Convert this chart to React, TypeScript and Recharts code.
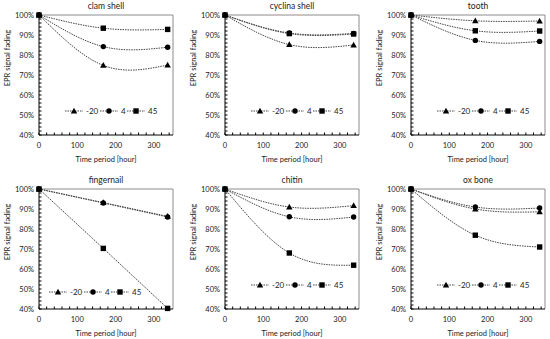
import React from "react";
import { LineChart, Line, XAxis, YAxis, Legend, ReferenceLine } from "recharts";

// storage time in hours
const hours = [0, 168, 336];
const seriesNames = ["-20", "4", "45"];

// EPR signal fading (%), one array per temperature
const clamShellM20 = [100, 74.8, 75.0];
const clamShell4 = [100, 84.2, 83.9];
const clamShell45 = [100, 93.4, 92.8];

const cyclinaM20 = [100, 85.2, 85.0];
const cyclina4 = [100, 91.0, 90.8];
const cyclina45 = [100, 90.7, 90.5];

const toothM20 = [100, 97.1, 97.0];
const tooth4 = [100, 87.3, 86.8];
const tooth45 = [100, 92.1, 92.0];

const fingernailM20 = [100, 93.2, 86.3];
const fingernail4 = [100, 93.0, 86.0];
const fingernail45 = [100, 70.3, 40.3];

const chitinM20 = [100, 91.0, 91.7];
const chitin4 = [100, 86.1, 86.0];
const chitin45 = [100, 68.0, 61.9];

const oxBoneM20 = [100, 90.0, 88.6];
const oxBone4 = [100, 91.0, 90.5];
const oxBone45 = [100, 76.9, 71.0];

const xTicks = [0, 20, 40, 60, 80, 100, 120, 140, 160, 180, 200, 220, 240, 260, 280, 300, 320, 340];
const yTicks = [
  40, 42, 44, 46, 48, 50, 52, 54, 56, 58, 60, 62, 64, 66, 68, 70, 72, 74, 76, 78, 80,
  82, 84, 86, 88, 90, 92, 94, 96, 98, 100,
];

const FONT = "Lato, 'Liberation Sans', sans-serif";
const INK = "#222";
const LINE = "#444";
const DASH = "1.5 1";

const W = 183;
const H = 165;
const TOP = 15;
const LEFT = 39;
const PLOT_W = 134;

const panels = [
  { title: "clam shell", s: [clamShellM20, clamShell4, clamShell45], curve: "natural", legX: 26, legY: 96, left: 0, top: 0 },
  { title: "cyclina shell", s: [cyclinaM20, cyclina4, cyclina45], curve: "natural", legX: 26, legY: 96, left: 186, top: 0 },
  { title: "tooth", s: [toothM20, tooth4, tooth45], curve: "natural", legX: 26, legY: 96, left: 372, top: 0 },
  { title: "fingernail", s: [fingernailM20, fingernail4, fingernail45], curve: "linear", legX: 10, legY: 103, left: 0, top: 174 },
  { title: "chitin", s: [chitinM20, chitin4, chitin45], curve: "natural", legX: 26, legY: 96, left: 186, top: 174 },
  { title: "ox bone", s: [oxBoneM20, oxBone4, oxBone45], curve: "natural", legX: 26, legY: 96, left: 372, top: 174 },
];

function Marker({ kind, cx, cy }: { kind: number; cx: number; cy: number }) {
  if (kind === 0) {
    return <path d={`M${cx},${cy - 3.3}L${cx + 3.2},${cy + 2.4}L${cx - 3.2},${cy + 2.4}Z`} fill="#000" />;
  }
  if (kind === 1) return <circle cx={cx} cy={cy} r={2.7} fill="#000" />;
  return <rect x={cx - 2.7} y={cy - 2.7} width={5.4} height={5.4} fill="#000" />;
}

const XTick = (props: any) => {
  const { x, y, payload } = props;
  return (
    <g>
      <line x1={x} x2={x} y1={y} y2={y - 2.5} stroke="#000" strokeWidth={1} />
      {payload.value % 100 === 0 && (
        <text x={x} y={y + 10} textAnchor="middle" dominantBaseline="central" fontSize={7.5} fill={INK} fontFamily={FONT}>
          {payload.value}
        </text>
      )}
    </g>
  );
};

const YTick = (props: any) => {
  const { x, y, payload } = props;
  return (
    <g>
      <line x1={x} x2={x + 2.5} y1={y} y2={y} stroke="#000" strokeWidth={1} />
      {payload.value % 10 === 0 && (
        <text x={x - 5} y={y} textAnchor="end" dominantBaseline="central" fontSize={7.5} fill={INK} fontFamily={FONT}>
          {payload.value + "%"}
        </text>
      )}
    </g>
  );
};

const LegendBox = ({ payload }: any) => {
  const marks = [9, 44, 71];
  return (
    <svg width={125} height={12} style={{ display: "block" }}>
      {(payload || []).map((p: any, i: number) => (
        <g key={p.value}>
          <line x1={marks[i] - 9} x2={marks[i] + 9} y1={6} y2={6} stroke={LINE} strokeDasharray={DASH} />
          <Marker kind={i} cx={marks[i]} cy={6} />
          <text x={marks[i] + 12} y={6} dominantBaseline="central" fontSize={8} fill={INK} fontFamily={FONT}>
            {p.value}
          </text>
        </g>
      ))}
    </svg>
  );
};

function Panel({ p }: { p: (typeof panels)[number] }) {
  const data = hours.map((h, i) => ({ hour: h, a: p.s[0][i], b: p.s[1][i], c: p.s[2][i] }));
  const keys = ["a", "b", "c"];
  return (
    <div style={{ position: "absolute", left: p.left, top: p.top, width: W, height: H }}>
      <div
        style={{
          position: "absolute",
          left: LEFT,
          top: 0,
          width: PLOT_W,
          textAlign: "center",
          fontFamily: FONT,
          fontSize: 8.5,
          lineHeight: "12px",
          color: INK,
        }}
      >
        {p.title}
      </div>
      <LineChart width={W} height={H} data={data} margin={{ top: TOP, right: 10, bottom: 0, left: 0 }}>
        <ReferenceLine y={100} stroke="#8c8c8c" />
        <ReferenceLine x={350} stroke="#8c8c8c" />
        <XAxis
          dataKey="hour"
          type="number"
          domain={[0, 350]}
          ticks={xTicks}
          interval={0}
          height={30}
          tickSize={0}
          tickMargin={0}
          tick={<XTick />}
          axisLine={{ stroke: "#000" }}
          label={{
            content: ({ viewBox }: any) => (
              <text
                x={viewBox.x + viewBox.width / 2}
                y={viewBox.y + 24}
                textAnchor="middle"
                dominantBaseline="central"
                fontSize={7.5}
                fill={INK}
                fontFamily={FONT}
              >
                Time period [hour]
              </text>
            ),
          }}
        />
        <YAxis
          type="number"
          domain={[40, 100]}
          ticks={yTicks}
          interval={0}
          width={LEFT}
          tickSize={0}
          tickMargin={0}
          tick={<YTick />}
          axisLine={{ stroke: "#000" }}
          label={{
            content: ({ viewBox }: any) => (
              <text
                transform={`translate(${viewBox.x + 7},${viewBox.y + 43}) rotate(-90)`}
                textAnchor="middle"
                dominantBaseline="central"
                fontSize={7.5}
                fill={INK}
                fontFamily={FONT}
              >
                EPR signal fading
              </text>
            ),
          }}
        />
        <Legend
          layout="horizontal"
          verticalAlign="middle"
          align="center"
          content={<LegendBox />}
          wrapperStyle={{ left: LEFT + p.legX, top: TOP + p.legY - 6, width: 125, height: 12 }}
        />
        {keys.map((k, i) => (
          <Line
            key={k}
            dataKey={k}
            name={seriesNames[i]}
            type={p.curve as any}
            stroke={LINE}
            strokeWidth={1}
            strokeDasharray={DASH}
            isAnimationActive={false}
            dot={(d: any) => <Marker key={`${k}${d.index}`} kind={i} cx={d.cx} cy={d.cy} />}
            activeDot={false}
          />
        ))}
      </LineChart>
    </div>
  );
}

export default function App() {
  return (
    <div style={{ position: "absolute", left: 0, top: 0, width: 550, height: 339, overflow: "hidden", background: "#fff" }}>
      {panels.map((p) => (
        <Panel key={p.title} p={p} />
      ))}
    </div>
  );
}
